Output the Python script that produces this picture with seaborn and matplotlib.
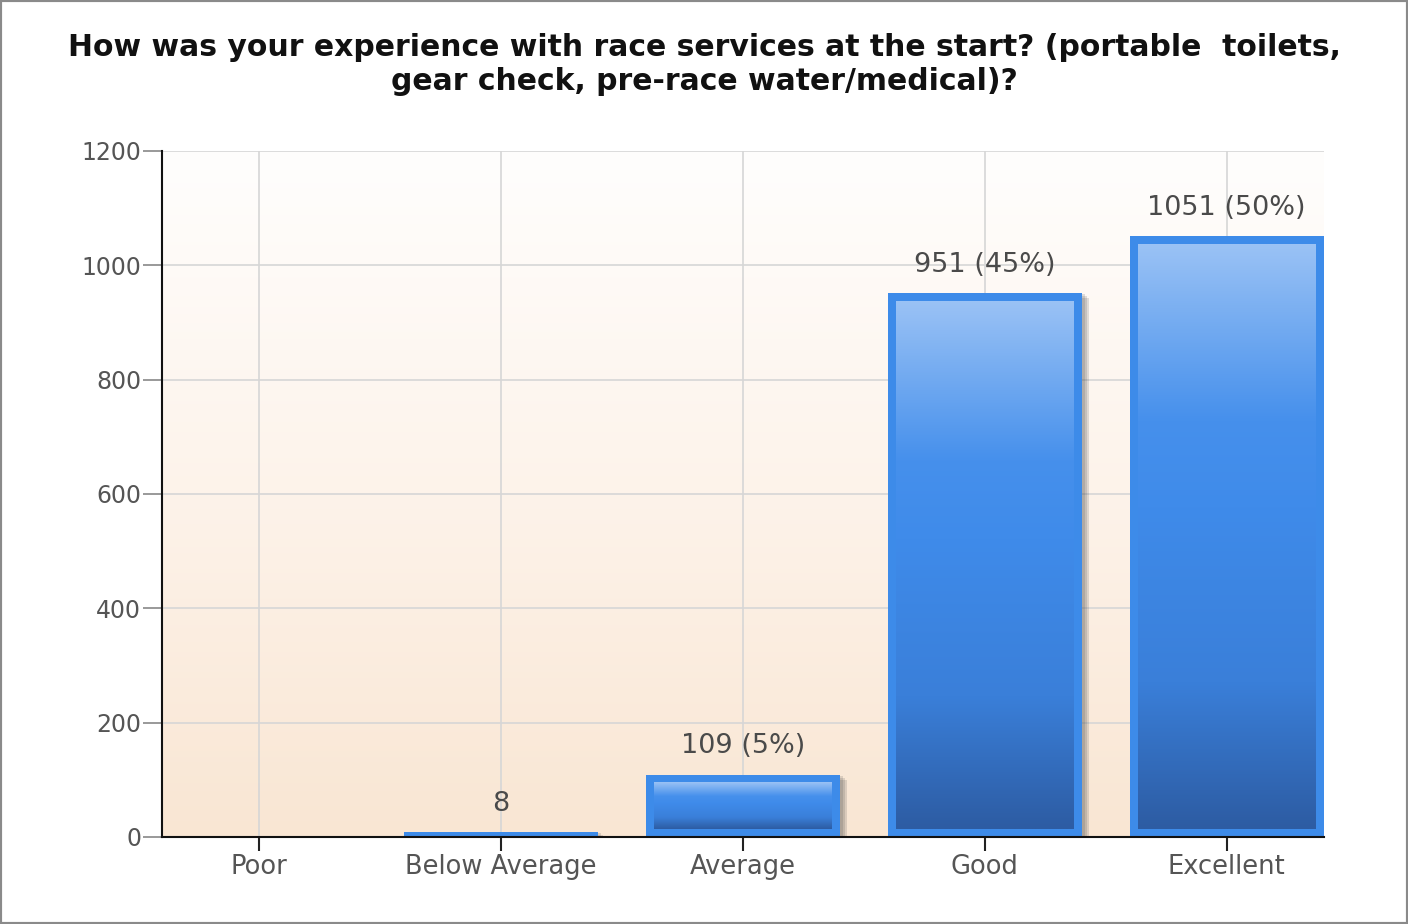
import numpy as np
import pandas as pd
import matplotlib
matplotlib.use('Agg')
import matplotlib.pyplot as plt
import matplotlib.patches as mpatches
import matplotlib.transforms as mtransforms
from matplotlib.colors import LinearSegmentedColormap
import seaborn as sns

categories = ['Poor', 'Below Average', 'Average', 'Good', 'Excellent']
counts = [0, 8, 109, 951, 1051]
percents = [0, 0, 5, 45, 50]
yticks = [0, 200, 400, 600, 800, 1000, 1200]
title = ('How was your experience with race services at the start? (portable  toilets,\n'
         'gear check, pre-race water/medical)?')

df = pd.DataFrame({'rating': categories, 'count': counts, 'pct': percents})

sns.set_style('white')
plt.rcParams['font.family'] = ['DejaVu Sans']

fig = plt.figure(figsize=(14.08, 9.24), dpi=100)
ax = fig.add_axes([0.115, 0.0942, 0.825, 0.7424])

# background gradient (white at top, peach at bottom)
bg = LinearSegmentedColormap.from_list('bg', ['#fffefd', '#fdf3ea', '#f9e6d3'])
ax.imshow(np.linspace(0, 1, 256).reshape(-1, 1), cmap=bg, aspect='auto',
          extent=(0, 1, 0, 1), transform=ax.transAxes, zorder=0)

sns.barplot(data=df, x='rating', y='count', color='#3d8be9', width=0.8,
            saturation=1, linewidth=0, ax=ax, zorder=3)

ax.set_xlim(-0.4, 4.4)
ax.set_ylim(0, 1200)
ax.set_yticks(yticks)
ax.grid(True, color='#d6d6d6', linewidth=1.2, zorder=1)
ax.set_axisbelow(True)

bar_cmap = LinearSegmentedColormap.from_list(
    'bar', [(0, '#9ac2f5'), (0.3, '#4690ec'), (0.45, '#3f8bea'),
            (0.75, '#3a7fd9'), (1, '#2d5ca3')])
grad = np.linspace(0, 1, 256).reshape(-1, 1)

px_x = (ax.get_position().width * 1408) / 4.8
px_y = (ax.get_position().height * 924) / 1200
for p in list(ax.patches):
    x0, w = p.get_x(), p.get_width()
    h = p.get_height()
    if h <= 0:
        continue
    # soft drop shadow
    for k in range(3):
        sh = mpatches.Rectangle((x0, 0), w, h, facecolor='#444444', edgecolor='none',
                                alpha=0.16, zorder=2,
                                transform=mtransforms.offset_copy(ax.transData, fig=fig,
                                                                  x=3 + 2 * k, y=-1 - 2 * k,
                                                                  units='dots'))
        ax.add_patch(sh)
    dx = 8 / px_x
    dy = 8 / px_y
    if h > 2 * dy:
        ax.imshow(grad, cmap=bar_cmap, aspect='auto', zorder=4,
                  extent=(x0 + dx, x0 + w - dx, dy, h - dy), interpolation='bilinear')

ax.set_xlim(-0.4, 4.4)
ax.set_ylim(0, 1200)

for i, (c, pc) in enumerate(zip(counts, percents)):
    if c == 0:
        continue
    label = f'{c} ({pc}%)' if pc > 0 else f'{c}'
    ax.text(i, c + 50, label, ha='center', va='center', fontsize=19.5,
            color='#4a4a4a', zorder=6)

ax.set_xlabel('')
ax.set_ylabel('')
ax.tick_params(axis='y', length=14, width=1.2, color='#888888', labelsize=17,
               labelcolor='#555555', pad=1, left=True)
ax.tick_params(axis='x', length=10, width=1.5, color='#222222', labelsize=18.5,
               labelcolor='#555555', pad=2, bottom=True)
for s in ['top', 'right']:
    ax.spines[s].set_visible(False)
for s in ['left', 'bottom']:
    ax.spines[s].set_color('#111111')
    ax.spines[s].set_linewidth(1.5)
    ax.spines[s].set_zorder(7)

fig.text(0.5, 0.930, title, ha='center', va='center', fontsize=21.5, fontweight='bold',
         color='#111111', linespacing=1.22)

fig.patches.append(mpatches.Rectangle((0, 0), 1, 1, transform=fig.transFigure,
                                      facecolor='none', edgecolor='#8a8a8a',
                                      linewidth=3, zorder=10))

fig.savefig('out.png', dpi=100)
